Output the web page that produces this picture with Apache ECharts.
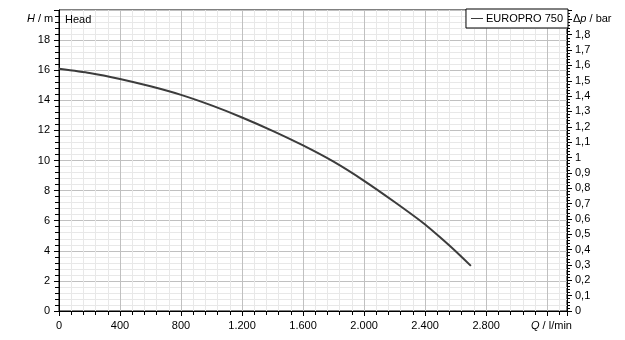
<!DOCTYPE html>
<html>
<head>
<meta charset="utf-8">
<script src="https://cdn.jsdelivr.net/npm/echarts@6/dist/echarts.min.js"></script>
<style>html,body{margin:0;padding:0;background:#fff}#c{width:625px;height:340px}</style>
</head>
<body>
<div id="c"></div>
<script>
var seriesName = 'EUROPRO 750';
var flowQ = [0, 200, 400, 600, 800, 1000, 1200, 1400, 1600, 1800, 2000, 2200, 2400, 2500, 2600, 2700];
var headH = [16.1, 15.82, 15.42, 14.93, 14.36, 13.66, 12.86, 11.97, 11.0, 9.92, 8.65, 7.24, 5.75, 4.88, 3.97, 3.0];
var xTitle = 'Q / l/min';
var yTitle = 'H / m';
var y2Title = 'Δp / bar';
var curveTitle = 'Head';

var FONT = 'Liberation Sans';
var chart = echarts.init(document.getElementById('c'), null, {renderer: 'canvas'});
var data = flowQ.map(function (q, i) { return [q, headH[i]]; });

function fmtQ(v) {
  if (Math.abs(v % 400) > 1e-6 || v >= 3200) return '';
  if (v >= 1000) { var r = String(v % 1000); while (r.length < 3) r = '0' + r; return Math.floor(v / 1000) + '.' + r; }
  return String(v);
}

var option = {
  backgroundColor: '#fff',
  animation: false,
  textStyle: {fontFamily: FONT},
  grid: {left: 59, right: 58, top: 10, bottom: 29, show: true, borderColor: '#000', borderWidth: 1},
  legend: {
    data: [seriesName], right: 57, top: 9, z: 50,
    backgroundColor: '#fff', borderColor: '#000', borderWidth: 1,
    padding: [4, 5, 4, 5], itemWidth: 12, itemHeight: 1, itemGap: 4,
    icon: 'path://M0,0L12,0L12,1L0,1Z',
    textStyle: {color: '#000', fontSize: 11, fontFamily: FONT, padding: [0, 0, 0, -2]}
  },
  xAxis: {
    type: 'value', min: 0, max: 3330, interval: 400,
    axisLine: {lineStyle: {color: '#000', width: 1}},
    axisTick: {show: true, length: 5, lineStyle: {color: '#000'}},
    minorTick: {show: true, splitNumber: 5, length: 4, lineStyle: {color: '#000'}},
    splitLine: {show: true, lineStyle: {color: '#c0c0c0', width: 1}},
    minorSplitLine: {show: true, lineStyle: {color: '#e8e8e8', width: 1}},
    axisLabel: {color: '#000', fontSize: 11, fontFamily: FONT, margin: 9, formatter: fmtQ, showMaxLabel: false}
  },
  yAxis: [{
    type: 'value', min: 0, max: 20, interval: 2, position: 'left',
    axisLine: {show: true, lineStyle: {color: '#000', width: 1}},
    axisTick: {show: true, length: 5, lineStyle: {color: '#000'}},
    minorTick: {show: true, splitNumber: 5, length: 4, lineStyle: {color: '#000'}},
    splitLine: {show: true, lineStyle: {color: '#c0c0c0', width: 1}},
    minorSplitLine: {show: true, lineStyle: {color: '#e8e8e8', width: 1}},
    axisLabel: {color: '#000', fontSize: 11, fontFamily: FONT, margin: 9,
      formatter: function (v) { return v >= 20 ? '' : String(v); }}
  }, {
    type: 'value', min: 0, max: 1.961, interval: 0.1, position: 'right',
    axisLine: {show: true, lineStyle: {color: '#000', width: 1}},
    axisTick: {show: true, length: 5, lineStyle: {color: '#000'}},
    minorTick: {show: true, splitNumber: 5, length: 3, lineStyle: {color: '#000'}},
    splitLine: {show: false},
    axisLabel: {color: '#000', fontSize: 11, fontFamily: FONT, margin: 8, showMaxLabel: false,
      formatter: function (v) { var s = Math.round(v * 10) / 10; if (s > 1.85) return ''; return String(s).replace('.', ','); }}
  }],
  graphic: [
    {type: 'text', left: 65, top: 14, z: 100, style: {text: curveTitle, fill: '#000', font: '11px "Liberation Sans"'}},
    {type: 'text', left: 27, top: 13, z: 100, style: {text: '{i|H} / m', fill: '#000', font: '11px "Liberation Sans"',
      rich: {i: {fontStyle: 'italic', fontSize: 11, fontFamily: FONT}}}},
    {type: 'text', left: 573, top: 13, z: 100, style: {text: 'Δ{i|p} / bar', fill: '#000', font: '11px "Liberation Sans"',
      rich: {i: {fontStyle: 'italic', fontSize: 11, fontFamily: FONT}}}},
    {type: 'text', left: 531, top: 320, z: 100, style: {text: '{i|Q} / l/min', fill: '#000', font: '11px "Liberation Sans"',
      rich: {i: {fontStyle: 'italic', fontSize: 11, fontFamily: FONT}}}}
  ],
  series: [{
    name: seriesName, type: 'line', data: data, smooth: 0.2,
    showSymbol: false, symbol: 'none', z: 10,
    lineStyle: {color: '#3c3c3c', width: 2}, itemStyle: {color: '#3c3c3c'}
  }]
};
chart.setOption(option);
</script>
</body>
</html>
